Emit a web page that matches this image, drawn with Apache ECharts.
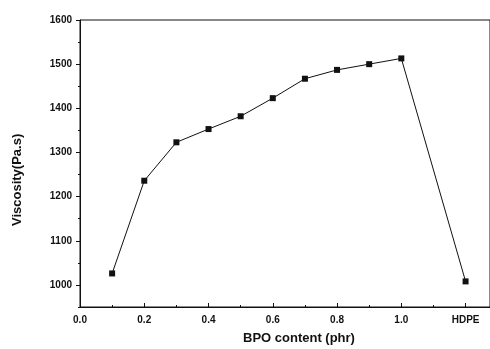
<!DOCTYPE html>
<html>
<head>
<meta charset="utf-8">
<script src="https://cdn.jsdelivr.net/npm/echarts@6/dist/echarts.min.js"></script>
<style>
  html, body { margin: 0; padding: 0; background: #fff; }
  #chart { width: 490px; height: 349px; }
</style>
</head>
<body>
<div id="chart"></div>
<script>
// BPO content (phr); HDPE sits at the 1.2 slot
const bpoContent = [0.1, 0.2, 0.3, 0.4, 0.5, 0.6, 0.7, 0.8, 0.9, 1.0, 1.2];
const viscosity = [1026, 1236, 1323, 1353, 1382, 1423, 1467, 1487, 1500, 1513, 1008];

const xTickValues = [0, 0.2, 0.4, 0.6, 0.8, 1.0, 1.2];
const xTickLabels = ["0.0", "0.2", "0.4", "0.6", "0.8", "1.0", "HDPE"];
const xMinorTicks = [0.1, 0.3, 0.5, 0.7, 0.9, 1.1];
const yTickValues = [1000, 1100, 1200, 1300, 1400, 1500, 1600];
const yMinorTicks = [950, 1050, 1150, 1250, 1350, 1450, 1550];

const ink = "#111";
const font = "Liberation Sans, Arial, sans-serif";

const chart = echarts.init(document.getElementById("chart"));

const labelFor = (value) => {
  const i = xTickValues.findIndex((v) => Math.abs(v - value) < 1e-6);
  return i >= 0 ? xTickLabels[i] : "";
};

chart.setOption({
  backgroundColor: "#fff",
  animation: false,
  grid: {
    left: 80,
    top: 20,
    width: 414,
    height: 287,
    show: true,
    borderColor: ink,
    borderWidth: 1,
  },
  xAxis: [
    {
      type: "value",
      min: 0,
      max: 1.276,
      splitLine: { show: false },
      axisLine: { onZero: false, lineStyle: { color: ink, width: 1 } },
      axisTick: {
        inside: true,
        length: 4,
        customValues: xTickValues,
        lineStyle: { color: ink },
      },
      axisLabel: {
        customValues: xTickValues,
        formatter: labelFor,
        color: ink,
        fontFamily: font,
        fontWeight: "bold",
        fontSize: 10,
        margin: 8,
      },
    },
    {
      type: "value",
      min: 0,
      max: 1.276,
      position: "bottom",
      splitLine: { show: false },
      axisLine: { show: false },
      axisLabel: { show: false },
      axisTick: {
        inside: true,
        length: 2,
        customValues: xMinorTicks,
        lineStyle: { color: ink },
      },
    },
  ],
  yAxis: [
    {
      type: "value",
      min: 950,
      max: 1600,
      splitLine: { show: false },
      axisLine: { show: true, lineStyle: { color: ink, width: 1 } },
      axisTick: {
        show: true,
        length: 4,
        customValues: yTickValues,
        lineStyle: { color: ink },
      },
      axisLabel: {
        customValues: yTickValues,
        formatter: (value) => String(value),
        color: ink,
        fontFamily: font,
        fontWeight: "bold",
        fontSize: 10,
        margin: 8,
      },
    },
    {
      type: "value",
      min: 950,
      max: 1600,
      position: "left",
      splitLine: { show: false },
      axisLine: { show: false },
      axisLabel: { show: false },
      axisTick: {
        show: true,
        length: 2,
        customValues: yMinorTicks,
        lineStyle: { color: ink },
      },
    },
  ],
  graphic: [
    {
      type: "text",
      left: 243,
      top: 332,
      style: {
        text: "BPO content (phr)",
        fill: ink,
        font: "bold 13px " + font,
      },
    },
    {
      type: "text",
      x: 11,
      y: 226,
      rotation: Math.PI / 2,
      style: {
        text: "Viscosity(Pa.s)",
        fill: ink,
        font: "bold 13px " + font,
      },
    },
  ],
  series: [
    {
      type: "line",
      xAxisIndex: 0,
      yAxisIndex: 0,
      data: bpoContent.map((x, i) => [x, viscosity[i]]),
      symbol: "rect",
      symbolSize: 6,
      lineStyle: { color: ink, width: 1 },
      itemStyle: { color: ink },
    },
  ],
});
</script>
</body>
</html>
